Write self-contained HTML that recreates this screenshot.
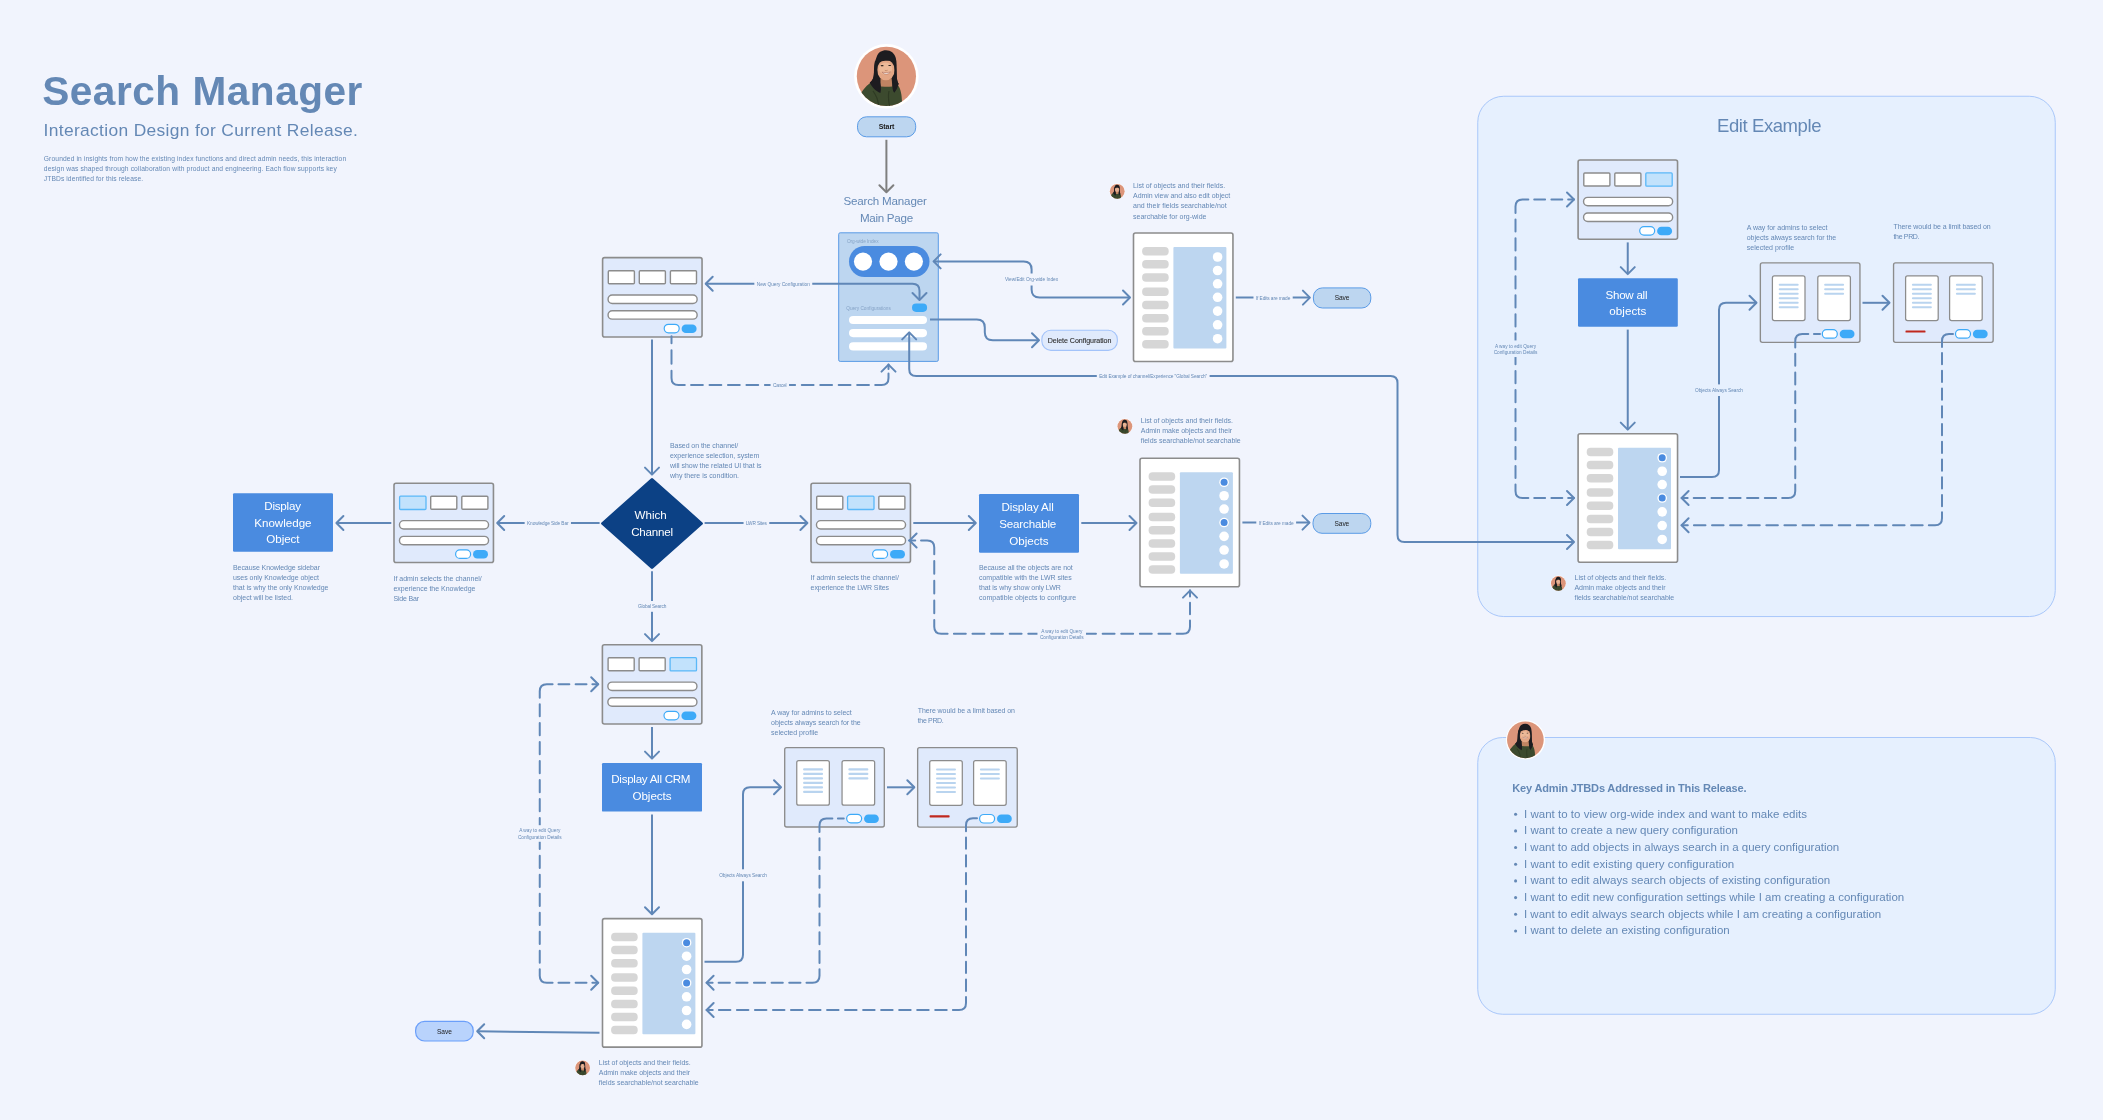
<!DOCTYPE html>
<html lang="en"><head><meta charset="utf-8"><title>Search Manager - Interaction Design</title>
<style>html,body{margin:0;padding:0;background:#f1f4fd;}body{width:2103px;height:1120px;overflow:hidden;}svg{display:block;will-change:transform;}text{font-family:"Liberation Sans",sans-serif;}</style></head><body>
<svg width="2103" height="1120" viewBox="0 0 2103 1120">
<rect width="2103" height="1120" fill="#f1f4fd"/>
<defs><clipPath id="avc"><circle cx="35.4" cy="35.3" r="29.6"/></clipPath>
<g id="av"><circle cx="35.4" cy="35.3" r="29.6" fill="#dc957a"/><g clip-path="url(#avc)">
<path d="M35,9.3 C30.5,9.3 27.5,11.5 26,15 C24.4,18.8 23.2,23 23,28 C22.8,33 23.2,35 22,37.5 C21,40 19.6,41 18.8,41.7 L25,50 L30,52.5 L43.5,52 L47.6,42.8 C46,40.5 45.8,37 45.7,33 C45.6,27 46,21.5 44.8,17 C43.4,12.2 40,9.3 35,9.3 Z" fill="#1d1c20"/>
<path d="M29.5,36 L40.5,36 L41.5,47.5 L29.5,47.5 Z" fill="#c08462"/>
<path d="M8.5,54.5 C12,48.5 16.5,43.6 20.3,41.3 C24,44.2 29,46 34.6,45.8 C39.5,45.8 44,45.4 47.2,44.4 C49.8,48 50.8,54 51,60.5 L50,69 L11,69 Z" fill="#3c4a2e"/>
<path d="M22,50 C25,54 27,58 27.5,64 M38,50 C37,55 37.5,60 38.5,65" stroke="#2e3a23" stroke-width="1.2" fill="none"/>
<ellipse cx="34.9" cy="29" rx="8.8" ry="10.3" fill="#e3a685"/>
<ellipse cx="34.6" cy="27.6" rx="6.6" ry="6.2" fill="#efbf9f" opacity=".75"/>
<path d="M25,24.2 C24.8,17 28.8,11 35,11 C40.9,11 44.8,15.4 44.5,23.2 L43.5,20.6 C39.2,19.3 33,19.4 29,20.6 C27.4,21.1 26,22.4 25,24.2 Z" fill="#1d1c20"/>
<path d="M24,19.5 C22.9,27 23.4,34 22,37.6 C21,40.2 19.6,41 18.8,41.7 C21,46.2 25,50.2 29.4,52 C30.8,47.6 29.7,43 28.1,39.6 C26.4,35.5 26.2,28 26.3,22 Z" fill="#1d1c20"/>
<path d="M44.1,20.5 C45.6,27 45.5,34 46,38 C46.4,40.6 47,42 47.6,42.8 C46.8,46.6 45.1,49.7 43.3,51.8 C40.6,48 41.4,43 42.8,39.4 C43.8,35 43.6,27.5 43.3,21.5 Z" fill="#1d1c20"/>
<ellipse cx="31.1" cy="24.7" rx="1.5" ry=".6" fill="#2a1e1a"/><ellipse cx="38.7" cy="24.5" rx="1.5" ry=".6" fill="#2a1e1a"/>
<path d="M33.8,29.4 Q35.2,30.1 36.6,29.3" stroke="#b47a5c" stroke-width=".7" fill="none"/>
<path d="M30.9,31.2 Q35.2,35.6 39.6,31 Q35.2,32.2 30.9,31.2 Z" fill="#f4ece8" stroke="#a85c48" stroke-width=".5"/>
</g></g></defs>
<rect x="1477.75" y="96.25" width="577.5" height="520.3" rx="26" fill="#e6f0fe" stroke="#a9c7fa" stroke-width="1"/>
<rect x="1477.75" y="737.5" width="577.5" height="276.75" rx="25" fill="#e6f0fe" stroke="#a9c7fa" stroke-width="1"/>
<text x="42.2" y="104.9" font-size="40.6" font-weight="bold" textLength="320.2" lengthAdjust="spacing" fill="#6488b5">Search Manager</text>
<text x="43.6" y="135.7" font-size="17.4" textLength="314.2" lengthAdjust="spacing" fill="#6488b5">Interaction Design for Current Release.</text>
<text x="43.8" y="161.3" font-size="6.7" textLength="302.4" lengthAdjust="spacing" fill="#6488b5">Grounded in insights from how the existing index functions and direct admin needs, this interaction</text>
<text x="43.8" y="171.3" font-size="6.7" textLength="293" lengthAdjust="spacing" fill="#6488b5">design was shaped through collaboration with product and engineering. Each flow supports key</text>
<text x="43.8" y="181.3" font-size="6.7" textLength="99.3" lengthAdjust="spacing" fill="#6488b5">JTBDs identified for this release.</text>
<circle cx="886.4" cy="76.3" r="32.3" fill="#fff"/>
<use href="#av" transform="translate(851,41) scale(1)"/>
<rect x="857.5" y="116.8" width="58.2" height="20" rx="9" fill="#bdd6f0" stroke="#5a9be6" stroke-width="1.0"/>
<text x="886.6" y="129.3" font-size="7" text-anchor="middle" font-weight="bold" textLength="15.7" lengthAdjust="spacing" fill="#1c1c1c">Start</text>
<text x="885.1" y="205.2" font-size="11.6" text-anchor="middle" textLength="83.4" lengthAdjust="spacing" fill="#6488b5">Search Manager</text>
<text x="886.5" y="221.5" font-size="11.6" text-anchor="middle" textLength="53.2" lengthAdjust="spacing" fill="#6488b5">Main Page</text>
<rect x="838.7" y="232.8" width="99.6" height="128.6" rx="1.5" fill="#bdd6f0" stroke="#5a9be6" stroke-width="1"/>
<text x="846.9" y="243" font-size="4.75" textLength="31.6" lengthAdjust="spacing" fill="#86a3c6">Org-wide Index</text>
<rect x="849" y="246" width="80.5" height="31" rx="15.5" fill="#4a8be0"/>
<circle cx="863" cy="261.6" r="9.1" fill="#fff"/>
<circle cx="888.5" cy="261.6" r="9.1" fill="#fff"/>
<circle cx="913.9" cy="261.6" r="9.1" fill="#fff"/>
<text x="846.3" y="309.7" font-size="4.75" textLength="44.5" lengthAdjust="spacing" fill="#86a3c6">Query Configurations</text>
<rect x="912" y="303.6" width="15.1" height="8.3" rx="4.1" fill="#3daaf8"/>
<rect x="849" y="315.9" width="78" height="8.2" rx="4.1" fill="#fff"/>
<rect x="849" y="329" width="78" height="8.2" rx="4.1" fill="#fff"/>
<rect x="849" y="342.3" width="78" height="8.2" rx="4.1" fill="#fff"/>
<g transform="translate(602.1,257.2)">
<rect x=".5" y=".45" width="99.45" height="79.3" rx="2" fill="#e0eafc" stroke="#8c8c8c" stroke-width="1.6"/>
<rect x="6.2" y="13.5" width="26.1" height="13.0" rx="1" fill="#fff" stroke="#8c8c8c" stroke-width="1.4"/>
<rect x="37.2" y="13.5" width="26.1" height="13.0" rx="1" fill="#fff" stroke="#8c8c8c" stroke-width="1.4"/>
<rect x="68.3" y="13.5" width="26.1" height="13.0" rx="1" fill="#fff" stroke="#8c8c8c" stroke-width="1.4"/>
<rect x="5.95" y="37.85" width="89.1" height="8.4" rx="4.2" fill="#fff" stroke="#8c8c8c" stroke-width="1.4"/>
<rect x="5.95" y="53.55" width="89.1" height="8.4" rx="4.2" fill="#fff" stroke="#8c8c8c" stroke-width="1.4"/>
<rect x="62.1" y="67.1" width="15" height="8.5" rx="4.25" fill="#fff" stroke="#3daaf8" stroke-width="1.2"/>
<rect x="79.5" y="67.2" width="15" height="8.5" rx="4.25" fill="#3daaf8"/>
</g>
<g transform="translate(393.5,482.8)">
<rect x=".5" y=".45" width="99.45" height="79.3" rx="2" fill="#e0eafc" stroke="#8c8c8c" stroke-width="1.6"/>
<rect x="6.1" y="13.4" width="26.4" height="13.3" rx="1" fill="#c2e2fc" stroke="#5ab8f8" stroke-width="1.3"/>
<rect x="37.2" y="13.5" width="26.1" height="13.0" rx="1" fill="#fff" stroke="#8c8c8c" stroke-width="1.4"/>
<rect x="68.3" y="13.5" width="26.1" height="13.0" rx="1" fill="#fff" stroke="#8c8c8c" stroke-width="1.4"/>
<rect x="5.95" y="37.85" width="89.1" height="8.4" rx="4.2" fill="#fff" stroke="#8c8c8c" stroke-width="1.4"/>
<rect x="5.95" y="53.55" width="89.1" height="8.4" rx="4.2" fill="#fff" stroke="#8c8c8c" stroke-width="1.4"/>
<rect x="62.1" y="67.1" width="15" height="8.5" rx="4.25" fill="#fff" stroke="#3daaf8" stroke-width="1.2"/>
<rect x="79.5" y="67.2" width="15" height="8.5" rx="4.25" fill="#3daaf8"/>
</g>
<g transform="translate(810.5,482.8)">
<rect x=".5" y=".45" width="99.45" height="79.3" rx="2" fill="#e0eafc" stroke="#8c8c8c" stroke-width="1.6"/>
<rect x="6.2" y="13.5" width="26.1" height="13.0" rx="1" fill="#fff" stroke="#8c8c8c" stroke-width="1.4"/>
<rect x="37.1" y="13.4" width="26.4" height="13.3" rx="1" fill="#c2e2fc" stroke="#5ab8f8" stroke-width="1.3"/>
<rect x="68.3" y="13.5" width="26.1" height="13.0" rx="1" fill="#fff" stroke="#8c8c8c" stroke-width="1.4"/>
<rect x="5.95" y="37.85" width="89.1" height="8.4" rx="4.2" fill="#fff" stroke="#8c8c8c" stroke-width="1.4"/>
<rect x="5.95" y="53.55" width="89.1" height="8.4" rx="4.2" fill="#fff" stroke="#8c8c8c" stroke-width="1.4"/>
<rect x="62.1" y="67.1" width="15" height="8.5" rx="4.25" fill="#fff" stroke="#3daaf8" stroke-width="1.2"/>
<rect x="79.5" y="67.2" width="15" height="8.5" rx="4.25" fill="#3daaf8"/>
</g>
<g transform="translate(601.9,644.25)">
<rect x=".5" y=".45" width="99.45" height="79.3" rx="2" fill="#e0eafc" stroke="#8c8c8c" stroke-width="1.6"/>
<rect x="6.2" y="13.5" width="26.1" height="13.0" rx="1" fill="#fff" stroke="#8c8c8c" stroke-width="1.4"/>
<rect x="37.2" y="13.5" width="26.1" height="13.0" rx="1" fill="#fff" stroke="#8c8c8c" stroke-width="1.4"/>
<rect x="68.2" y="13.4" width="26.4" height="13.3" rx="1" fill="#c2e2fc" stroke="#5ab8f8" stroke-width="1.3"/>
<rect x="5.95" y="37.85" width="89.1" height="8.4" rx="4.2" fill="#fff" stroke="#8c8c8c" stroke-width="1.4"/>
<rect x="5.95" y="53.55" width="89.1" height="8.4" rx="4.2" fill="#fff" stroke="#8c8c8c" stroke-width="1.4"/>
<rect x="62.1" y="67.1" width="15" height="8.5" rx="4.25" fill="#fff" stroke="#3daaf8" stroke-width="1.2"/>
<rect x="79.5" y="67.2" width="15" height="8.5" rx="4.25" fill="#3daaf8"/>
</g>
<g transform="translate(1577.6,159.5)">
<rect x=".5" y=".45" width="99.45" height="79.3" rx="2" fill="#e0eafc" stroke="#8c8c8c" stroke-width="1.6"/>
<rect x="6.2" y="13.5" width="26.1" height="13.0" rx="1" fill="#fff" stroke="#8c8c8c" stroke-width="1.4"/>
<rect x="37.2" y="13.5" width="26.1" height="13.0" rx="1" fill="#fff" stroke="#8c8c8c" stroke-width="1.4"/>
<rect x="68.2" y="13.4" width="26.4" height="13.3" rx="1" fill="#c2e2fc" stroke="#5ab8f8" stroke-width="1.3"/>
<rect x="5.95" y="37.85" width="89.1" height="8.4" rx="4.2" fill="#fff" stroke="#8c8c8c" stroke-width="1.4"/>
<rect x="5.95" y="53.55" width="89.1" height="8.4" rx="4.2" fill="#fff" stroke="#8c8c8c" stroke-width="1.4"/>
<rect x="62.1" y="67.1" width="15" height="8.5" rx="4.25" fill="#fff" stroke="#3daaf8" stroke-width="1.2"/>
<rect x="79.5" y="67.2" width="15" height="8.5" rx="4.25" fill="#3daaf8"/>
</g>
<g transform="translate(1133,232.5)">
<rect x=".5" y=".45" width="99.45" height="128.5" rx="2" fill="#fff" stroke="#8c8c8c" stroke-width="1.6"/>
<rect x="9.1" y="14.5" width="26.6" height="8.5" rx="4" fill="#d6d6d6"/>
<rect x="9.1" y="27.5" width="26.6" height="8.5" rx="4" fill="#d6d6d6"/>
<rect x="9.1" y="40.75" width="26.6" height="8.5" rx="4" fill="#d6d6d6"/>
<rect x="9.1" y="55" width="26.6" height="8.5" rx="4" fill="#d6d6d6"/>
<rect x="9.1" y="68.25" width="26.6" height="8.5" rx="4" fill="#d6d6d6"/>
<rect x="9.1" y="81.5" width="26.6" height="8.5" rx="4" fill="#d6d6d6"/>
<rect x="9.1" y="94.5" width="26.6" height="8.5" rx="4" fill="#d6d6d6"/>
<rect x="9.1" y="107.5" width="26.6" height="8.5" rx="4" fill="#d6d6d6"/>
<rect x="40.4" y="14.5" width="53" height="101.5" rx="1" fill="#bdd6f0"/>
<circle cx="84.6" cy="24.5" r="4.8" fill="#fff"/>
<circle cx="84.6" cy="38" r="4.8" fill="#fff"/>
<circle cx="84.6" cy="51.3" r="4.8" fill="#fff"/>
<circle cx="84.6" cy="64.8" r="4.8" fill="#fff"/>
<circle cx="84.6" cy="78.6" r="4.8" fill="#fff"/>
<circle cx="84.6" cy="92.3" r="4.8" fill="#fff"/>
<circle cx="84.6" cy="106.2" r="4.8" fill="#fff"/>
</g>
<g transform="translate(1139.5,457.75)">
<rect x=".5" y=".45" width="99.45" height="128.5" rx="2" fill="#fff" stroke="#8c8c8c" stroke-width="1.6"/>
<rect x="9.1" y="14.5" width="26.6" height="8.5" rx="4" fill="#d6d6d6"/>
<rect x="9.1" y="27.5" width="26.6" height="8.5" rx="4" fill="#d6d6d6"/>
<rect x="9.1" y="40.75" width="26.6" height="8.5" rx="4" fill="#d6d6d6"/>
<rect x="9.1" y="55" width="26.6" height="8.5" rx="4" fill="#d6d6d6"/>
<rect x="9.1" y="68.25" width="26.6" height="8.5" rx="4" fill="#d6d6d6"/>
<rect x="9.1" y="81.5" width="26.6" height="8.5" rx="4" fill="#d6d6d6"/>
<rect x="9.1" y="94.5" width="26.6" height="8.5" rx="4" fill="#d6d6d6"/>
<rect x="9.1" y="107.5" width="26.6" height="8.5" rx="4" fill="#d6d6d6"/>
<rect x="40.4" y="14.5" width="53" height="101.5" rx="1" fill="#bdd6f0"/>
<circle cx="84.6" cy="24.5" r="4.8" fill="#fff"/>
<circle cx="84.6" cy="24.5" r="3.5" fill="#4a8be0"/>
<circle cx="84.6" cy="38" r="4.8" fill="#fff"/>
<circle cx="84.6" cy="51.3" r="4.8" fill="#fff"/>
<circle cx="84.6" cy="64.8" r="4.8" fill="#fff"/>
<circle cx="84.6" cy="64.8" r="3.5" fill="#4a8be0"/>
<circle cx="84.6" cy="78.6" r="4.8" fill="#fff"/>
<circle cx="84.6" cy="92.3" r="4.8" fill="#fff"/>
<circle cx="84.6" cy="106.2" r="4.8" fill="#fff"/>
</g>
<g transform="translate(1577.6,433.25)">
<rect x=".5" y=".45" width="99.45" height="128.5" rx="2" fill="#fff" stroke="#8c8c8c" stroke-width="1.6"/>
<rect x="9.1" y="14.5" width="26.6" height="8.5" rx="4" fill="#d6d6d6"/>
<rect x="9.1" y="27.5" width="26.6" height="8.5" rx="4" fill="#d6d6d6"/>
<rect x="9.1" y="40.75" width="26.6" height="8.5" rx="4" fill="#d6d6d6"/>
<rect x="9.1" y="55" width="26.6" height="8.5" rx="4" fill="#d6d6d6"/>
<rect x="9.1" y="68.25" width="26.6" height="8.5" rx="4" fill="#d6d6d6"/>
<rect x="9.1" y="81.5" width="26.6" height="8.5" rx="4" fill="#d6d6d6"/>
<rect x="9.1" y="94.5" width="26.6" height="8.5" rx="4" fill="#d6d6d6"/>
<rect x="9.1" y="107.5" width="26.6" height="8.5" rx="4" fill="#d6d6d6"/>
<rect x="40.4" y="14.5" width="53" height="101.5" rx="1" fill="#bdd6f0"/>
<circle cx="84.6" cy="24.5" r="4.8" fill="#fff"/>
<circle cx="84.6" cy="24.5" r="3.5" fill="#4a8be0"/>
<circle cx="84.6" cy="38" r="4.8" fill="#fff"/>
<circle cx="84.6" cy="51.3" r="4.8" fill="#fff"/>
<circle cx="84.6" cy="64.8" r="4.8" fill="#fff"/>
<circle cx="84.6" cy="64.8" r="3.5" fill="#4a8be0"/>
<circle cx="84.6" cy="78.6" r="4.8" fill="#fff"/>
<circle cx="84.6" cy="92.3" r="4.8" fill="#fff"/>
<circle cx="84.6" cy="106.2" r="4.8" fill="#fff"/>
</g>
<g transform="translate(602,918.2)">
<rect x=".5" y=".45" width="99.45" height="128.5" rx="2" fill="#fff" stroke="#8c8c8c" stroke-width="1.6"/>
<rect x="9.1" y="14.5" width="26.6" height="8.5" rx="4" fill="#d6d6d6"/>
<rect x="9.1" y="27.5" width="26.6" height="8.5" rx="4" fill="#d6d6d6"/>
<rect x="9.1" y="40.75" width="26.6" height="8.5" rx="4" fill="#d6d6d6"/>
<rect x="9.1" y="55" width="26.6" height="8.5" rx="4" fill="#d6d6d6"/>
<rect x="9.1" y="68.25" width="26.6" height="8.5" rx="4" fill="#d6d6d6"/>
<rect x="9.1" y="81.5" width="26.6" height="8.5" rx="4" fill="#d6d6d6"/>
<rect x="9.1" y="94.5" width="26.6" height="8.5" rx="4" fill="#d6d6d6"/>
<rect x="9.1" y="107.5" width="26.6" height="8.5" rx="4" fill="#d6d6d6"/>
<rect x="40.4" y="14.5" width="53" height="101.5" rx="1" fill="#bdd6f0"/>
<circle cx="84.6" cy="24.5" r="4.8" fill="#fff"/>
<circle cx="84.6" cy="24.5" r="3.5" fill="#4a8be0"/>
<circle cx="84.6" cy="38" r="4.8" fill="#fff"/>
<circle cx="84.6" cy="51.3" r="4.8" fill="#fff"/>
<circle cx="84.6" cy="64.8" r="4.8" fill="#fff"/>
<circle cx="84.6" cy="64.8" r="3.5" fill="#4a8be0"/>
<circle cx="84.6" cy="78.6" r="4.8" fill="#fff"/>
<circle cx="84.6" cy="92.3" r="4.8" fill="#fff"/>
<circle cx="84.6" cy="106.2" r="4.8" fill="#fff"/>
</g>
<g transform="translate(784.25,747.15)">
<rect x=".45" y=".4" width="99.6" height="79.4" rx="2" fill="#e0eafc" stroke="#8c8c8c" stroke-width="1.35"/>
<rect x="12.5" y="13.4" width="32.6" height="44.6" rx="2" fill="#fff" stroke="#8c8c8c" stroke-width="1.25"/>
<rect x="18.8" y="21.15" width="20" height="2.1" rx="1" fill="#b9d4ef"/>
<rect x="18.8" y="25.65" width="20" height="2.1" rx="1" fill="#b9d4ef"/>
<rect x="18.8" y="30.15" width="20" height="2.1" rx="1" fill="#b9d4ef"/>
<rect x="18.8" y="34.65" width="20" height="2.1" rx="1" fill="#b9d4ef"/>
<rect x="18.8" y="39.15" width="20" height="2.1" rx="1" fill="#b9d4ef"/>
<rect x="18.8" y="43.65" width="20" height="2.1" rx="1" fill="#b9d4ef"/>
<rect x="57.8" y="13.4" width="32.6" height="44.6" rx="2" fill="#fff" stroke="#8c8c8c" stroke-width="1.25"/>
<rect x="64.1" y="21.15" width="20" height="2.1" rx="1" fill="#b9d4ef"/>
<rect x="64.1" y="25.65" width="20" height="2.1" rx="1" fill="#b9d4ef"/>
<rect x="64.1" y="30.15" width="20" height="2.1" rx="1" fill="#b9d4ef"/>
<rect x="62.4" y="67.2" width="15" height="8.5" rx="4.25" fill="#fff" stroke="#3daaf8" stroke-width="1.2"/>
<rect x="79.8" y="67.3" width="14.8" height="8.5" rx="4.25" fill="#3daaf8"/>
</g>
<g transform="translate(917.2,747.3)">
<rect x=".45" y=".4" width="99.6" height="79.4" rx="2" fill="#e0eafc" stroke="#8c8c8c" stroke-width="1.35"/>
<rect x="12.5" y="13.4" width="32.6" height="44.6" rx="2" fill="#fff" stroke="#8c8c8c" stroke-width="1.25"/>
<rect x="18.8" y="21.15" width="20" height="2.1" rx="1" fill="#b9d4ef"/>
<rect x="18.8" y="25.65" width="20" height="2.1" rx="1" fill="#b9d4ef"/>
<rect x="18.8" y="30.15" width="20" height="2.1" rx="1" fill="#b9d4ef"/>
<rect x="18.8" y="34.65" width="20" height="2.1" rx="1" fill="#b9d4ef"/>
<rect x="18.8" y="39.15" width="20" height="2.1" rx="1" fill="#b9d4ef"/>
<rect x="18.8" y="43.65" width="20" height="2.1" rx="1" fill="#b9d4ef"/>
<rect x="56.4" y="13.4" width="32.6" height="44.6" rx="2" fill="#fff" stroke="#8c8c8c" stroke-width="1.25"/>
<rect x="62.7" y="21.15" width="20" height="2.1" rx="1" fill="#b9d4ef"/>
<rect x="62.7" y="25.65" width="20" height="2.1" rx="1" fill="#b9d4ef"/>
<rect x="62.7" y="30.15" width="20" height="2.1" rx="1" fill="#b9d4ef"/>
<rect x="12.4" y="68.0" width="20" height="2.1" rx=".6" fill="#c0281e"/>
<rect x="62.4" y="67.2" width="15" height="8.5" rx="4.25" fill="#fff" stroke="#3daaf8" stroke-width="1.2"/>
<rect x="79.8" y="67.3" width="14.8" height="8.5" rx="4.25" fill="#3daaf8"/>
</g>
<g transform="translate(1759.9,262.5)">
<rect x=".45" y=".4" width="99.6" height="79.4" rx="2" fill="#e0eafc" stroke="#8c8c8c" stroke-width="1.35"/>
<rect x="12.5" y="13.4" width="32.6" height="44.6" rx="2" fill="#fff" stroke="#8c8c8c" stroke-width="1.25"/>
<rect x="18.8" y="21.15" width="20" height="2.1" rx="1" fill="#b9d4ef"/>
<rect x="18.8" y="25.65" width="20" height="2.1" rx="1" fill="#b9d4ef"/>
<rect x="18.8" y="30.15" width="20" height="2.1" rx="1" fill="#b9d4ef"/>
<rect x="18.8" y="34.65" width="20" height="2.1" rx="1" fill="#b9d4ef"/>
<rect x="18.8" y="39.15" width="20" height="2.1" rx="1" fill="#b9d4ef"/>
<rect x="18.8" y="43.65" width="20" height="2.1" rx="1" fill="#b9d4ef"/>
<rect x="57.9" y="13.4" width="32.6" height="44.6" rx="2" fill="#fff" stroke="#8c8c8c" stroke-width="1.25"/>
<rect x="64.2" y="21.15" width="20" height="2.1" rx="1" fill="#b9d4ef"/>
<rect x="64.2" y="25.65" width="20" height="2.1" rx="1" fill="#b9d4ef"/>
<rect x="64.2" y="30.15" width="20" height="2.1" rx="1" fill="#b9d4ef"/>
<rect x="62.4" y="67.2" width="15" height="8.5" rx="4.25" fill="#fff" stroke="#3daaf8" stroke-width="1.2"/>
<rect x="79.8" y="67.3" width="14.8" height="8.5" rx="4.25" fill="#3daaf8"/>
</g>
<g transform="translate(1893.1,262.5)">
<rect x=".45" y=".4" width="99.6" height="79.4" rx="2" fill="#e0eafc" stroke="#8c8c8c" stroke-width="1.35"/>
<rect x="12.5" y="13.4" width="32.6" height="44.6" rx="2" fill="#fff" stroke="#8c8c8c" stroke-width="1.25"/>
<rect x="18.8" y="21.15" width="20" height="2.1" rx="1" fill="#b9d4ef"/>
<rect x="18.8" y="25.65" width="20" height="2.1" rx="1" fill="#b9d4ef"/>
<rect x="18.8" y="30.15" width="20" height="2.1" rx="1" fill="#b9d4ef"/>
<rect x="18.8" y="34.65" width="20" height="2.1" rx="1" fill="#b9d4ef"/>
<rect x="18.8" y="39.15" width="20" height="2.1" rx="1" fill="#b9d4ef"/>
<rect x="18.8" y="43.65" width="20" height="2.1" rx="1" fill="#b9d4ef"/>
<rect x="56.5" y="13.4" width="32.6" height="44.6" rx="2" fill="#fff" stroke="#8c8c8c" stroke-width="1.25"/>
<rect x="62.8" y="21.15" width="20" height="2.1" rx="1" fill="#b9d4ef"/>
<rect x="62.8" y="25.65" width="20" height="2.1" rx="1" fill="#b9d4ef"/>
<rect x="62.8" y="30.15" width="20" height="2.1" rx="1" fill="#b9d4ef"/>
<rect x="12.4" y="68.0" width="20" height="2.1" rx=".6" fill="#c0281e"/>
<rect x="62.4" y="67.2" width="15" height="8.5" rx="4.25" fill="#fff" stroke="#3daaf8" stroke-width="1.2"/>
<rect x="79.8" y="67.3" width="14.8" height="8.5" rx="4.25" fill="#3daaf8"/>
</g>
<polygon points="652,479.5 701.4,523.5 652,567.5 602.6,523.5" fill="#0c4185" stroke="#0c4185" stroke-width="3" stroke-linejoin="round"/>
<text x="650.6" y="519.2" font-size="11.6" text-anchor="middle" textLength="32" lengthAdjust="spacing" fill="#fff">Which</text>
<text x="652.1" y="536" font-size="11.6" text-anchor="middle" textLength="41.75" lengthAdjust="spacing" fill="#fff">Channel</text>
<rect x="233" y="493.2" width="100" height="58.6" rx="1.2" fill="#4a8be0"/>
<text x="282.6" y="510.2" font-size="11.6" text-anchor="middle" textLength="36.75" lengthAdjust="spacing" fill="#fff">Display</text>
<text x="282.9" y="526.9" font-size="11.6" text-anchor="middle" textLength="57.25" lengthAdjust="spacing" fill="#fff">Knowledge</text>
<text x="282.9" y="543.4" font-size="11.6" text-anchor="middle" textLength="33.25" lengthAdjust="spacing" fill="#fff">Object</text>
<rect x="979" y="494" width="100" height="58.7" rx="1.2" fill="#4a8be0"/>
<text x="1027.6" y="511.4" font-size="11.6" text-anchor="middle" textLength="52.25" lengthAdjust="spacing" fill="#fff">Display All</text>
<text x="1027.8" y="528.1" font-size="11.6" text-anchor="middle" textLength="57" lengthAdjust="spacing" fill="#fff">Searchable</text>
<text x="1028.9" y="544.6" font-size="11.6" text-anchor="middle" textLength="39.25" lengthAdjust="spacing" fill="#fff">Objects</text>
<rect x="602" y="763" width="100" height="48.6" rx="1.2" fill="#4a8be0"/>
<text x="650.9" y="783.4" font-size="11.6" text-anchor="middle" textLength="79.25" lengthAdjust="spacing" fill="#fff">Display All CRM</text>
<text x="652" y="800.1" font-size="11.6" text-anchor="middle" textLength="39" lengthAdjust="spacing" fill="#fff">Objects</text>
<rect x="1578" y="278.2" width="99.8" height="48.6" rx="1.2" fill="#4a8be0"/>
<text x="1626.5" y="298.7" font-size="11.6" text-anchor="middle" textLength="42" lengthAdjust="spacing" fill="#fff">Show all</text>
<text x="1627.8" y="315.3" font-size="11.6" text-anchor="middle" textLength="37" lengthAdjust="spacing" fill="#fff">objects</text>
<rect x="1313.4" y="287.9" width="57.4" height="20.1" rx="9" fill="#bdd6f0" stroke="#5a9be6" stroke-width="1.0"/>
<text x="1342.1" y="300.45" font-size="6.6" text-anchor="middle" textLength="14.5" lengthAdjust="spacing" fill="#1c1c1c">Save</text>
<rect x="1313" y="513.5" width="57.8" height="19.8" rx="9" fill="#bdd6f0" stroke="#5a9be6" stroke-width="1.0"/>
<text x="1341.9" y="525.9" font-size="6.6" text-anchor="middle" textLength="14.75" lengthAdjust="spacing" fill="#1c1c1c">Save</text>
<rect x="415.6" y="1021.4" width="57.6" height="19.6" rx="9" fill="#b9d3fc" stroke="#6b9ffa" stroke-width="1.2"/>
<text x="444.4" y="1033.7" font-size="6.6" text-anchor="middle" textLength="15" lengthAdjust="spacing" fill="#1c1c1c">Save</text>
<rect x="1041.85" y="330.25" width="75.5" height="20.1" rx="9" fill="#e0eafc" stroke="#a3c3fa" stroke-width="1.1"/>
<text x="1079.6" y="342.9" font-size="7.1" text-anchor="middle" textLength="63.7" lengthAdjust="spacing" fill="#303030" stroke="#303030" stroke-width="0.12">Delete Configuration</text>
<path d="M886.4,139.8 L886.4,192" stroke="#7f7f7f" stroke-width="2" fill="none"/>
<path d="M879.4,185.2 L886.4,192.2 L893.4,185.2" stroke="#7f7f7f" stroke-width="2" fill="none" stroke-linecap="round" stroke-linejoin="round"/>
<path d="M652,339.6 L652,474.5" stroke="#6087b7" stroke-width="2" fill="none"/>
<path d="M645,467.6 L652,474.6 L659,467.6" stroke="#6087b7" stroke-width="2" fill="none" stroke-linecap="round" stroke-linejoin="round"/>
<path d="M671.5,378 Q671.5,385 678.5,385 M881.5,385 Q888.5,385 888.5,378 M671.5,336.2 L671.5,343.37 M671.5,350.33 L671.5,363.87 M671.5,370.83 L671.5,378 M678.5,385 L684.8,385 M691.05,385 L702.86,385 M709.51,385 L721.31,385 M727.96,385 L739.76,385 M746.42,385 L758.22,385 M764.87,385 L776.67,385 M783.33,385 L795.13,385 M801.78,385 L813.58,385 M820.24,385 L832.04,385 M838.69,385 L850.49,385 M857.14,385 L868.95,385 M875.2,385 L881.5,385 M888.5,378 L888.5,373.49 M888.5,369.11 L888.5,364.6" stroke="#6087b7" stroke-width="2" fill="none" stroke-linecap="round"/>
<path d="M895.5,371.6 L888.5,364.6 L881.5,371.6" stroke="#6087b7" stroke-width="2" fill="none" stroke-linecap="round" stroke-linejoin="round"/>
<path d="M599.6,523 L497.2,523" stroke="#6087b7" stroke-width="2" fill="none"/>
<path d="M504.2,516 L497.2,523 L504.2,530" stroke="#6087b7" stroke-width="2" fill="none" stroke-linecap="round" stroke-linejoin="round"/>
<path d="M391.3,523 L336.4,523" stroke="#6087b7" stroke-width="2" fill="none"/>
<path d="M343.4,516 L336.4,523 L343.4,530" stroke="#6087b7" stroke-width="2" fill="none" stroke-linecap="round" stroke-linejoin="round"/>
<path d="M704.6,523 L807.4,523" stroke="#6087b7" stroke-width="2" fill="none"/>
<path d="M800.4,530 L807.4,523 L800.4,516" stroke="#6087b7" stroke-width="2" fill="none" stroke-linecap="round" stroke-linejoin="round"/>
<path d="M913.3,523 L975.8,523" stroke="#6087b7" stroke-width="2" fill="none"/>
<path d="M968.8,530 L975.8,523 L968.8,516" stroke="#6087b7" stroke-width="2" fill="none" stroke-linecap="round" stroke-linejoin="round"/>
<path d="M1081.3,523 L1136.5,523" stroke="#6087b7" stroke-width="2" fill="none"/>
<path d="M1129.5,530 L1136.5,523 L1129.5,516" stroke="#6087b7" stroke-width="2" fill="none" stroke-linecap="round" stroke-linejoin="round"/>
<path d="M1242.4,522.6 L1309.5,522.6" stroke="#6087b7" stroke-width="2" fill="none"/>
<path d="M1302.5,529.6 L1309.5,522.6 L1302.5,515.6" stroke="#6087b7" stroke-width="2" fill="none" stroke-linecap="round" stroke-linejoin="round"/>
<path d="M1190,626.75 Q1190,633.75 1183,633.75 M941.25,633.75 Q934.25,633.75 934.25,626.75 M934.25,547.5 Q934.25,540.5 927.25,540.5 M1190,590.2 L1190,596.44 M1190,602.64 L1190,614.31 M1190,620.51 L1190,626.75 M1183,633.75 L1176.65,633.75 M1170.36,633.75 L1158.45,633.75 M1151.76,633.75 L1139.86,633.75 M1133.16,633.75 L1121.26,633.75 M1114.57,633.75 L1102.66,633.75 M1095.97,633.75 L1084.07,633.75 M1077.37,633.75 L1065.47,633.75 M1058.78,633.75 L1046.88,633.75 M1040.18,633.75 L1028.28,633.75 M1021.59,633.75 L1009.68,633.75 M1002.99,633.75 L991.09,633.75 M984.39,633.75 L972.49,633.75 M965.8,633.75 L953.89,633.75 M947.6,633.75 L941.25,633.75 M934.25,626.75 L934.25,619.97 M934.25,613.32 L934.25,600.55 M934.25,593.51 L934.25,580.74 M934.25,573.7 L934.25,560.93 M934.25,554.28 L934.25,547.5 M927.25,540.5 L921.02,540.5 M915.23,540.5 L909,540.5" stroke="#6087b7" stroke-width="2" fill="none" stroke-linecap="round"/>
<path d="M1197,597.6 L1190,590.6 L1183,597.6" stroke="#6087b7" stroke-width="2" fill="none" stroke-linecap="round" stroke-linejoin="round"/>
<path d="M916.6,533.5 L909.6,540.5 L916.6,547.5" stroke="#6087b7" stroke-width="2" fill="none" stroke-linecap="round" stroke-linejoin="round"/>
<path d="M652,571.3 L652,641" stroke="#6087b7" stroke-width="2" fill="none"/>
<path d="M645,634.1 L652,641.1 L659,634.1" stroke="#6087b7" stroke-width="2" fill="none" stroke-linecap="round" stroke-linejoin="round"/>
<path d="M652,727 L652,758.5" stroke="#6087b7" stroke-width="2" fill="none"/>
<path d="M645,751.6 L652,758.6 L659,751.6" stroke="#6087b7" stroke-width="2" fill="none" stroke-linecap="round" stroke-linejoin="round"/>
<path d="M652,814.4 L652,914.2" stroke="#6087b7" stroke-width="2" fill="none"/>
<path d="M645,907.3 L652,914.3 L659,907.3" stroke="#6087b7" stroke-width="2" fill="none" stroke-linecap="round" stroke-linejoin="round"/>
<path d="M546.75,684.25 Q539.75,684.25 539.75,691.25 M539.75,975.75 Q539.75,982.75 546.75,982.75 M598.2,684.25 L592.36,684.25 M586.49,684.25 L575.61,684.25 M569.34,684.25 L558.46,684.25 M552.59,684.25 L546.75,684.25 M539.75,691.25 L539.75,697.73 M539.75,704.13 L539.75,716.3 M539.75,723.1 L539.75,735.27 M539.75,742.07 L539.75,754.23 M539.75,761.03 L539.75,773.2 M539.75,780 L539.75,792.17 M539.75,798.97 L539.75,811.13 M539.75,817.93 L539.75,830.1 M539.75,836.9 L539.75,849.07 M539.75,855.87 L539.75,868.03 M539.75,874.83 L539.75,887 M539.75,893.8 L539.75,905.97 M539.75,912.77 L539.75,924.93 M539.75,931.73 L539.75,943.9 M539.75,950.7 L539.75,962.87 M539.75,969.27 L539.75,975.75 M546.75,982.75 L552.59,982.75 M558.46,982.75 L569.34,982.75 M575.61,982.75 L586.49,982.75 M592.36,982.75 L598.2,982.75" stroke="#6087b7" stroke-width="2" fill="none" stroke-linecap="round"/>
<path d="M591.2,691.25 L598.2,684.25 L591.2,677.25" stroke="#6087b7" stroke-width="2" fill="none" stroke-linecap="round" stroke-linejoin="round"/>
<path d="M591.2,989.75 L598.2,982.75 L591.2,975.75" stroke="#6087b7" stroke-width="2" fill="none" stroke-linecap="round" stroke-linejoin="round"/>
<path d="M704.5,961.75 L736,961.75 Q743,961.75 743,954.75 L743,794.3 Q743,787.3 750,787.3 L781,787.3" stroke="#6087b7" stroke-width="2" fill="none"/>
<path d="M774,794.3 L781,787.3 L774,780.3" stroke="#6087b7" stroke-width="2" fill="none" stroke-linecap="round" stroke-linejoin="round"/>
<path d="M887,787.3 L914.3,787.3" stroke="#6087b7" stroke-width="2" fill="none"/>
<path d="M907.3,794.3 L914.3,787.3 L907.3,780.3" stroke="#6087b7" stroke-width="2" fill="none" stroke-linecap="round" stroke-linejoin="round"/>
<path d="M826.5,818.5 Q819.5,818.5 819.5,825.5 M819.5,975.75 Q819.5,982.75 812.5,982.75 M843.75,818.5 L837.88,818.5 M832.37,818.5 L826.5,818.5 M819.5,825.5 L819.5,831.92 M819.5,838.26 L819.5,850.3 M819.5,857.05 L819.5,869.08 M819.5,875.83 L819.5,887.86 M819.5,894.61 L819.5,906.64 M819.5,913.39 L819.5,925.42 M819.5,932.17 L819.5,944.2 M819.5,950.95 L819.5,962.99 M819.5,969.33 L819.5,975.75 M812.5,982.75 L806.48,982.75 M800.47,982.75 L789.23,982.75 M782.82,982.75 L771.58,982.75 M765.17,982.75 L753.93,982.75 M747.52,982.75 L736.28,982.75 M729.87,982.75 L718.63,982.75 M712.62,982.75 L706.6,982.75" stroke="#6087b7" stroke-width="2" fill="none" stroke-linecap="round"/>
<path d="M713.6,975.75 L706.6,982.75 L713.6,989.75" stroke="#6087b7" stroke-width="2" fill="none" stroke-linecap="round" stroke-linejoin="round"/>
<path d="M973,818.3 Q966,818.3 966,825.3 M966,1003 Q966,1010 959,1010 M977,818.3 L973,818.3 M966,825.3 L966,831.36 M966,837.41 L966,848.73 M966,855.18 L966,866.5 M966,872.95 L966,884.27 M966,890.72 L966,902.04 M966,908.49 L966,919.81 M966,926.26 L966,937.58 M966,944.03 L966,955.35 M966,961.8 L966,973.12 M966,979.57 L966,990.89 M966,996.94 L966,1003 M959,1010 L952.85,1010 M946.72,1010 L935.22,1010 M928.69,1010 L917.19,1010 M910.66,1010 L899.16,1010 M892.64,1010 L881.14,1010 M874.61,1010 L863.11,1010 M856.58,1010 L845.08,1010 M838.55,1010 L827.05,1010 M820.52,1010 L809.02,1010 M802.49,1010 L790.99,1010 M784.46,1010 L772.96,1010 M766.44,1010 L754.94,1010 M748.41,1010 L736.91,1010 M730.38,1010 L718.88,1010 M712.75,1010 L706.6,1010" stroke="#6087b7" stroke-width="2" fill="none" stroke-linecap="round"/>
<path d="M713.6,1003 L706.6,1010 L713.6,1017" stroke="#6087b7" stroke-width="2" fill="none" stroke-linecap="round" stroke-linejoin="round"/>
<path d="M599.5,1032.7 L477.2,1031.3" stroke="#6087b7" stroke-width="2" fill="none"/>
<path d="M484.2,1024.3 L477.2,1031.3 L484.2,1038.3" stroke="#6087b7" stroke-width="2" fill="none" stroke-linecap="round" stroke-linejoin="round"/>
<path d="M705.7,283.7 L912.5,283.7 Q919.5,283.7 919.5,290.7 L919.5,300" stroke="#6087b7" stroke-width="2" fill="none"/>
<path d="M712.7,276.7 L705.7,283.7 L712.7,290.7" stroke="#6087b7" stroke-width="2" fill="none" stroke-linecap="round" stroke-linejoin="round"/>
<path d="M933.6,261.4 L1023.6,261.4 Q1031.6,261.4 1031.6,269.4 L1031.6,289.5 Q1031.6,297.5 1039.6,297.5 L1130,297.5" stroke="#6087b7" stroke-width="2" fill="none"/>
<path d="M930,319.6 L976.8,319.6 Q984.8,319.6 984.8,327.6 L984.8,332.3 Q984.8,340.3 992.8,340.3 L1039,340.3" stroke="#6087b7" stroke-width="2" fill="none"/>
<path d="M1032,347.3 L1039,340.3 L1032,333.3" stroke="#6087b7" stroke-width="2" fill="none" stroke-linecap="round" stroke-linejoin="round"/>
<path d="M1123,304.5 L1130,297.5 L1123,290.5" stroke="#6087b7" stroke-width="2" fill="none" stroke-linecap="round" stroke-linejoin="round"/>
<path d="M912.5,293 L919.5,300 L926.5,293" stroke="#6087b7" stroke-width="2" fill="none" stroke-linecap="round" stroke-linejoin="round"/>
<path d="M940.6,254.4 L933.6,261.4 L940.6,268.4" stroke="#6087b7" stroke-width="2" fill="none" stroke-linecap="round" stroke-linejoin="round"/>
<path d="M916.2,339.4 L909.2,332.4 L902.2,339.4" stroke="#6087b7" stroke-width="2" fill="none" stroke-linecap="round" stroke-linejoin="round"/>
<path d="M1235.8,297.6 L1309.9,297.6" stroke="#6087b7" stroke-width="2" fill="none"/>
<path d="M1302.9,304.6 L1309.9,297.6 L1302.9,290.6" stroke="#6087b7" stroke-width="2" fill="none" stroke-linecap="round" stroke-linejoin="round"/>
<path d="M909.2,332.4 L909.2,369 Q909.2,376 916.2,376 L1390.5,376 Q1397.5,376 1397.5,383 L1397.5,535 Q1397.5,542 1404.5,542 L1574,542" stroke="#6087b7" stroke-width="2" fill="none"/>
<path d="M1627.75,242.4 L1627.75,274" stroke="#6087b7" stroke-width="2" fill="none"/>
<path d="M1620.75,267.1 L1627.75,274.1 L1634.75,267.1" stroke="#6087b7" stroke-width="2" fill="none" stroke-linecap="round" stroke-linejoin="round"/>
<path d="M1627.75,329.6 L1627.75,429.5" stroke="#6087b7" stroke-width="2" fill="none"/>
<path d="M1620.75,422.6 L1627.75,429.6 L1634.75,422.6" stroke="#6087b7" stroke-width="2" fill="none" stroke-linecap="round" stroke-linejoin="round"/>
<path d="M1522.5,199.5 Q1515.5,199.5 1515.5,206.5 M1515.5,491 Q1515.5,498 1522.5,498 M1574,199.5 L1568.16,199.5 M1562.28,199.5 L1551.39,199.5 M1545.11,199.5 L1534.22,199.5 M1528.34,199.5 L1522.5,199.5 M1515.5,206.5 L1515.5,212.98 M1515.5,219.38 L1515.5,231.55 M1515.5,238.35 L1515.5,250.52 M1515.5,257.32 L1515.5,269.48 M1515.5,276.28 L1515.5,288.45 M1515.5,295.25 L1515.5,307.42 M1515.5,314.22 L1515.5,326.38 M1515.5,333.18 L1515.5,345.35 M1515.5,352.15 L1515.5,364.32 M1515.5,371.12 L1515.5,383.28 M1515.5,390.08 L1515.5,402.25 M1515.5,409.05 L1515.5,421.22 M1515.5,428.02 L1515.5,440.18 M1515.5,446.98 L1515.5,459.15 M1515.5,465.95 L1515.5,478.12 M1515.5,484.52 L1515.5,491 M1522.5,498 L1528.34,498 M1534.22,498 L1545.11,498 M1551.39,498 L1562.28,498 M1568.16,498 L1574,498" stroke="#6087b7" stroke-width="2" fill="none" stroke-linecap="round"/>
<path d="M1567,206.5 L1574,199.5 L1567,192.5" stroke="#6087b7" stroke-width="2" fill="none" stroke-linecap="round" stroke-linejoin="round"/>
<path d="M1567,505 L1574,498 L1567,491" stroke="#6087b7" stroke-width="2" fill="none" stroke-linecap="round" stroke-linejoin="round"/>
<path d="M1567,549 L1574,542 L1567,535" stroke="#6087b7" stroke-width="2" fill="none" stroke-linecap="round" stroke-linejoin="round"/>
<path d="M1680,477 L1712,477 Q1719,477 1719,470 L1719,309.8 Q1719,302.8 1726,302.8 L1756.5,302.8" stroke="#6087b7" stroke-width="2" fill="none"/>
<path d="M1749.5,309.8 L1756.5,302.8 L1749.5,295.8" stroke="#6087b7" stroke-width="2" fill="none" stroke-linecap="round" stroke-linejoin="round"/>
<path d="M1862.5,302.8 L1889.5,302.8" stroke="#6087b7" stroke-width="2" fill="none"/>
<path d="M1882.5,309.8 L1889.5,302.8 L1882.5,295.8" stroke="#6087b7" stroke-width="2" fill="none" stroke-linecap="round" stroke-linejoin="round"/>
<path d="M1802.25,334 Q1795.25,334 1795.25,341 M1795.25,491 Q1795.25,498 1788.25,498 M1820,334 L1813.95,334 M1808.3,334 L1802.25,334 M1795.25,341 L1795.25,347.41 M1795.25,353.74 L1795.25,365.76 M1795.25,372.49 L1795.25,384.51 M1795.25,391.24 L1795.25,403.26 M1795.25,409.99 L1795.25,422.01 M1795.25,428.74 L1795.25,440.76 M1795.25,447.49 L1795.25,459.51 M1795.25,466.24 L1795.25,478.26 M1795.25,484.59 L1795.25,491 M1788.25,498 L1782.19,498 M1776.14,498 L1764.81,498 M1758.36,498 L1747.04,498 M1740.59,498 L1729.26,498 M1722.81,498 L1711.49,498 M1705.04,498 L1693.71,498 M1687.66,498 L1681.6,498" stroke="#6087b7" stroke-width="2" fill="none" stroke-linecap="round"/>
<path d="M1688.6,491 L1681.6,498 L1688.6,505" stroke="#6087b7" stroke-width="2" fill="none" stroke-linecap="round" stroke-linejoin="round"/>
<path d="M1949,334 Q1942,334 1942,341 M1942,518.25 Q1942,525.25 1935,525.25 M1953,334 L1949,334 M1942,341 L1942,347.04 M1942,353.08 L1942,364.37 M1942,370.81 L1942,382.09 M1942,388.53 L1942,399.82 M1942,406.26 L1942,417.54 M1942,423.98 L1942,435.27 M1942,441.71 L1942,452.99 M1942,459.43 L1942,470.72 M1942,477.16 L1942,488.44 M1942,494.88 L1942,506.17 M1942,512.21 L1942,518.25 M1935,525.25 L1928.82,525.25 M1922.68,525.25 L1911.12,525.25 M1904.58,525.25 L1893.02,525.25 M1886.48,525.25 L1874.92,525.25 M1868.38,525.25 L1856.82,525.25 M1850.28,525.25 L1838.72,525.25 M1832.18,525.25 L1820.62,525.25 M1814.08,525.25 L1802.52,525.25 M1795.98,525.25 L1784.42,525.25 M1777.88,525.25 L1766.32,525.25 M1759.78,525.25 L1748.22,525.25 M1741.68,525.25 L1730.12,525.25 M1723.58,525.25 L1712.02,525.25 M1705.48,525.25 L1693.92,525.25 M1687.78,525.25 L1681.6,525.25" stroke="#6087b7" stroke-width="2" fill="none" stroke-linecap="round"/>
<path d="M1688.6,518.25 L1681.6,525.25 L1688.6,532.25" stroke="#6087b7" stroke-width="2" fill="none" stroke-linecap="round" stroke-linejoin="round"/>
<rect x="754.35" y="278.1" width="57.9" height="11.6" fill="#f1f4fd"/>
<text x="783.3" y="285.61" font-size="4.75" text-anchor="middle" textLength="53.1" lengthAdjust="spacing" fill="#6488b5">New Query Configuration</text>
<rect x="770.55" y="379.2" width="18.5" height="11.6" fill="#f1f4fd"/>
<text x="779.8" y="386.71" font-size="4.75" text-anchor="middle" textLength="13.7" lengthAdjust="spacing" fill="#6488b5">Cancel</text>
<rect x="1002.5" y="273.5" width="58" height="12" fill="#f1f4fd"/>
<text x="1031.5" y="281.21" font-size="4.75" text-anchor="middle" textLength="53.2" lengthAdjust="spacing" fill="#6488b5">View/Edit Org-wide Index</text>
<rect x="1253.5" y="292.1" width="39.2" height="11.6" fill="#f1f4fd"/>
<text x="1273.1" y="299.61" font-size="4.75" text-anchor="middle" textLength="34.4" lengthAdjust="spacing" fill="#6488b5">If Edits are made</text>
<rect x="1096.8" y="370.3" width="112.8" height="11.6" fill="#f1f4fd"/>
<text x="1153.2" y="377.81" font-size="4.75" text-anchor="middle" textLength="108" lengthAdjust="spacing" fill="#6488b5">Edit Example of channel/Experience "Global Search"</text>
<rect x="524.65" y="517.4" width="46.3" height="11.6" fill="#f1f4fd"/>
<text x="547.8" y="524.91" font-size="4.75" text-anchor="middle" textLength="41.5" lengthAdjust="spacing" fill="#6488b5">Knowledge Side Bar</text>
<rect x="743.55" y="517.4" width="25.7" height="11.6" fill="#f1f4fd"/>
<text x="756.4" y="524.91" font-size="4.75" text-anchor="middle" textLength="20.9" lengthAdjust="spacing" fill="#6488b5">LWR Sites</text>
<rect x="635.55" y="601" width="33.3" height="10.8" fill="#f1f4fd"/>
<text x="652.2" y="608.11" font-size="4.75" text-anchor="middle" textLength="28.5" lengthAdjust="spacing" fill="#6488b5">Global Search</text>
<rect x="1256.3" y="517.2" width="39.8" height="11.6" fill="#f1f4fd"/>
<text x="1276.2" y="524.71" font-size="4.75" text-anchor="middle" textLength="35" lengthAdjust="spacing" fill="#6488b5">If Edits are made</text>
<rect x="1037.47" y="625.45" width="48.55" height="16.6" fill="#f1f4fd"/>
<text x="1061.75" y="632.51" font-size="4.75" text-anchor="middle" textLength="41.25" lengthAdjust="spacing" fill="#6488b5">A way to edit Query</text>
<text x="1061.75" y="639.11" font-size="4.75" text-anchor="middle" textLength="43.75" lengthAdjust="spacing" fill="#6488b5">Configuration Details</text>
<rect x="515.48" y="825.2" width="48.55" height="16.6" fill="#f1f4fd"/>
<text x="539.75" y="832.26" font-size="4.75" text-anchor="middle" textLength="41.25" lengthAdjust="spacing" fill="#6488b5">A way to edit Query</text>
<text x="539.75" y="838.86" font-size="4.75" text-anchor="middle" textLength="43.75" lengthAdjust="spacing" fill="#6488b5">Configuration Details</text>
<rect x="1491.22" y="340.45" width="48.55" height="16.6" fill="#e6f0fe"/>
<text x="1515.5" y="347.51" font-size="4.75" text-anchor="middle" textLength="41.25" lengthAdjust="spacing" fill="#6488b5">A way to edit Query</text>
<text x="1515.5" y="354.11" font-size="4.75" text-anchor="middle" textLength="43.75" lengthAdjust="spacing" fill="#6488b5">Configuration Details</text>
<rect x="716.73" y="869.3" width="52.55" height="12" fill="#f1f4fd"/>
<text x="743" y="877.01" font-size="4.75" text-anchor="middle" textLength="47.75" lengthAdjust="spacing" fill="#6488b5">Objects Always Search</text>
<rect x="1692.6" y="384.4" width="52.8" height="11.6" fill="#e6f0fe"/>
<text x="1719" y="391.91" font-size="4.75" text-anchor="middle" textLength="48" lengthAdjust="spacing" fill="#6488b5">Objects Always Search</text>
<circle cx="1117.1" cy="191.2" r="7.7" fill="#fff"/>
<use href="#av" transform="translate(1108.37,182.49) scale(0.25)"/>
<text x="1133" y="188.3" font-size="7" textLength="92.1" lengthAdjust="spacing" fill="#6488b5">List of objects and their fields.</text>
<text x="1133" y="198.4" font-size="7" textLength="97.2" lengthAdjust="spacing" fill="#6488b5">Admin view and also edit object</text>
<text x="1133" y="208.4" font-size="7" textLength="93.7" lengthAdjust="spacing" fill="#6488b5">and their fields searchable/not</text>
<text x="1133" y="218.5" font-size="7" textLength="73.5" lengthAdjust="spacing" fill="#6488b5">searchable for org-wide</text>
<text x="670" y="448.45" font-size="7" textLength="68.25" lengthAdjust="spacing" fill="#6488b5">Based on the channel/</text>
<text x="670" y="458.45" font-size="7" textLength="89.25" lengthAdjust="spacing" fill="#6488b5">experience selection, system</text>
<text x="670" y="468.45" font-size="7" textLength="91.5" lengthAdjust="spacing" fill="#6488b5">will show the related UI that is</text>
<text x="670" y="478.45" font-size="7" textLength="69" lengthAdjust="spacing" fill="#6488b5">why there is condition.</text>
<text x="233" y="570.2" font-size="7" textLength="87" lengthAdjust="spacing" fill="#6488b5">Because Knowledge sidebar</text>
<text x="233" y="580.2" font-size="7" textLength="86" lengthAdjust="spacing" fill="#6488b5">uses only Knowledge object</text>
<text x="233" y="590.2" font-size="7" textLength="95.5" lengthAdjust="spacing" fill="#6488b5">that is why the only Knowledge</text>
<text x="233" y="600.2" font-size="7" textLength="60" lengthAdjust="spacing" fill="#6488b5">object will be listed.</text>
<text x="393.5" y="581.45" font-size="7" textLength="88.25" lengthAdjust="spacing" fill="#6488b5">If admin selects the channel/</text>
<text x="393.5" y="591.45" font-size="7" textLength="82" lengthAdjust="spacing" fill="#6488b5">experience the Knowledge</text>
<text x="393.5" y="601.45" font-size="7" textLength="25.5" lengthAdjust="spacing" fill="#6488b5">Side Bar</text>
<text x="810.6" y="580.2" font-size="7" textLength="88.25" lengthAdjust="spacing" fill="#6488b5">If admin selects the channel/</text>
<text x="810.6" y="590.2" font-size="7" textLength="78.5" lengthAdjust="spacing" fill="#6488b5">experience the LWR Sites</text>
<text x="979" y="570.2" font-size="7" textLength="93.75" lengthAdjust="spacing" fill="#6488b5">Because all the objects are not</text>
<text x="979" y="580.2" font-size="7" textLength="92.75" lengthAdjust="spacing" fill="#6488b5">compatible with the LWR sites</text>
<text x="979" y="590.2" font-size="7" textLength="81.75" lengthAdjust="spacing" fill="#6488b5">that is why show only LWR</text>
<text x="979" y="600.2" font-size="7" textLength="97.25" lengthAdjust="spacing" fill="#6488b5">compatible objects to configure</text>
<circle cx="1124.75" cy="426.25" r="7.7" fill="#fff"/>
<use href="#av" transform="translate(1116.02,417.54) scale(0.25)"/>
<text x="1140.75" y="423.45" font-size="7" textLength="92.25" lengthAdjust="spacing" fill="#6488b5">List of objects and their fields.</text>
<text x="1140.75" y="433.45" font-size="7" textLength="91.25" lengthAdjust="spacing" fill="#6488b5">Admin make objects and their</text>
<text x="1140.75" y="443.45" font-size="7" textLength="100" lengthAdjust="spacing" fill="#6488b5">fields searchable/not searchable</text>
<circle cx="1558.25" cy="583.25" r="7.7" fill="#fff"/>
<use href="#av" transform="translate(1549.52,574.54) scale(0.25)"/>
<text x="1574.5" y="580.2" font-size="7" textLength="91.75" lengthAdjust="spacing" fill="#6488b5">List of objects and their fields.</text>
<text x="1574.5" y="590.2" font-size="7" textLength="91" lengthAdjust="spacing" fill="#6488b5">Admin make objects and their</text>
<text x="1574.5" y="600.2" font-size="7" textLength="99.75" lengthAdjust="spacing" fill="#6488b5">fields searchable/not searchable</text>
<circle cx="582.5" cy="1067.75" r="7.7" fill="#fff"/>
<use href="#av" transform="translate(573.77,1059.04) scale(0.25)"/>
<text x="598.75" y="1064.7" font-size="7" textLength="92" lengthAdjust="spacing" fill="#6488b5">List of objects and their fields.</text>
<text x="598.75" y="1074.7" font-size="7" textLength="91.25" lengthAdjust="spacing" fill="#6488b5">Admin make objects and their</text>
<text x="598.75" y="1084.7" font-size="7" textLength="100" lengthAdjust="spacing" fill="#6488b5">fields searchable/not searchable</text>
<text x="771" y="714.7" font-size="7" textLength="80.75" lengthAdjust="spacing" fill="#6488b5">A way for admins to select</text>
<text x="771" y="724.7" font-size="7" textLength="89.75" lengthAdjust="spacing" fill="#6488b5">objects always search for the</text>
<text x="771" y="734.7" font-size="7" textLength="47.25" lengthAdjust="spacing" fill="#6488b5">selected profile</text>
<text x="917.75" y="713.45" font-size="7" textLength="97.25" lengthAdjust="spacing" fill="#6488b5">There would be a limit based on</text>
<text x="917.75" y="723.45" font-size="7" textLength="26" lengthAdjust="spacing" fill="#6488b5">the PRD.</text>
<text x="1746.75" y="230.2" font-size="7" textLength="80.75" lengthAdjust="spacing" fill="#6488b5">A way for admins to select</text>
<text x="1746.75" y="240.2" font-size="7" textLength="89.5" lengthAdjust="spacing" fill="#6488b5">objects always search for the</text>
<text x="1746.75" y="250.2" font-size="7" textLength="47.5" lengthAdjust="spacing" fill="#6488b5">selected profile</text>
<text x="1893.5" y="228.7" font-size="7" textLength="97.25" lengthAdjust="spacing" fill="#6488b5">There would be a limit based on</text>
<text x="1893.5" y="238.7" font-size="7" textLength="26" lengthAdjust="spacing" fill="#6488b5">the PRD.</text>
<text x="1769.25" y="132" font-size="18.5" text-anchor="middle" textLength="104.5" lengthAdjust="spacing" fill="#6488b5">Edit Example</text>
<circle cx="1525.5" cy="739.9" r="19.6" fill="#fff"/>
<use href="#av" transform="translate(1503.43,717.9) scale(0.62)"/>
<text x="1512.25" y="791.5" font-size="11.05" font-weight="bold" textLength="234.25" lengthAdjust="spacing" fill="#6488b5">Key Admin JTBDs Addressed in This Release.</text>
<circle cx="1515.6" cy="814.2" r="1.55" fill="#6488b5"/>
<text x="1524" y="817.5" font-size="11.5" textLength="283" lengthAdjust="spacing" fill="#6488b5">I want to to view org-wide index and want to make edits</text>
<circle cx="1515.6" cy="830.88" r="1.55" fill="#6488b5"/>
<text x="1524" y="834.18" font-size="11.5" textLength="214" lengthAdjust="spacing" fill="#6488b5">I want to create a new query configuration</text>
<circle cx="1515.6" cy="847.56" r="1.55" fill="#6488b5"/>
<text x="1524" y="850.86" font-size="11.5" textLength="315.25" lengthAdjust="spacing" fill="#6488b5">I want to add objects in always search in a query configuration</text>
<circle cx="1515.6" cy="864.24" r="1.55" fill="#6488b5"/>
<text x="1524" y="867.54" font-size="11.5" textLength="210.25" lengthAdjust="spacing" fill="#6488b5">I want to edit existing query configuration</text>
<circle cx="1515.6" cy="880.92" r="1.55" fill="#6488b5"/>
<text x="1524" y="884.22" font-size="11.5" textLength="306.25" lengthAdjust="spacing" fill="#6488b5">I want to edit always search objects of existing configuration</text>
<circle cx="1515.6" cy="897.6" r="1.55" fill="#6488b5"/>
<text x="1524" y="900.9" font-size="11.5" textLength="380.25" lengthAdjust="spacing" fill="#6488b5">I want to edit new configuration settings while I am creating a configuration</text>
<circle cx="1515.6" cy="914.28" r="1.55" fill="#6488b5"/>
<text x="1524" y="917.58" font-size="11.5" textLength="357.25" lengthAdjust="spacing" fill="#6488b5">I want to edit always search objects while I am creating a configuration</text>
<circle cx="1515.6" cy="930.96" r="1.55" fill="#6488b5"/>
<text x="1524" y="934.26" font-size="11.5" textLength="205.75" lengthAdjust="spacing" fill="#6488b5">I want to delete an existing configuration</text>
</svg></body></html>
